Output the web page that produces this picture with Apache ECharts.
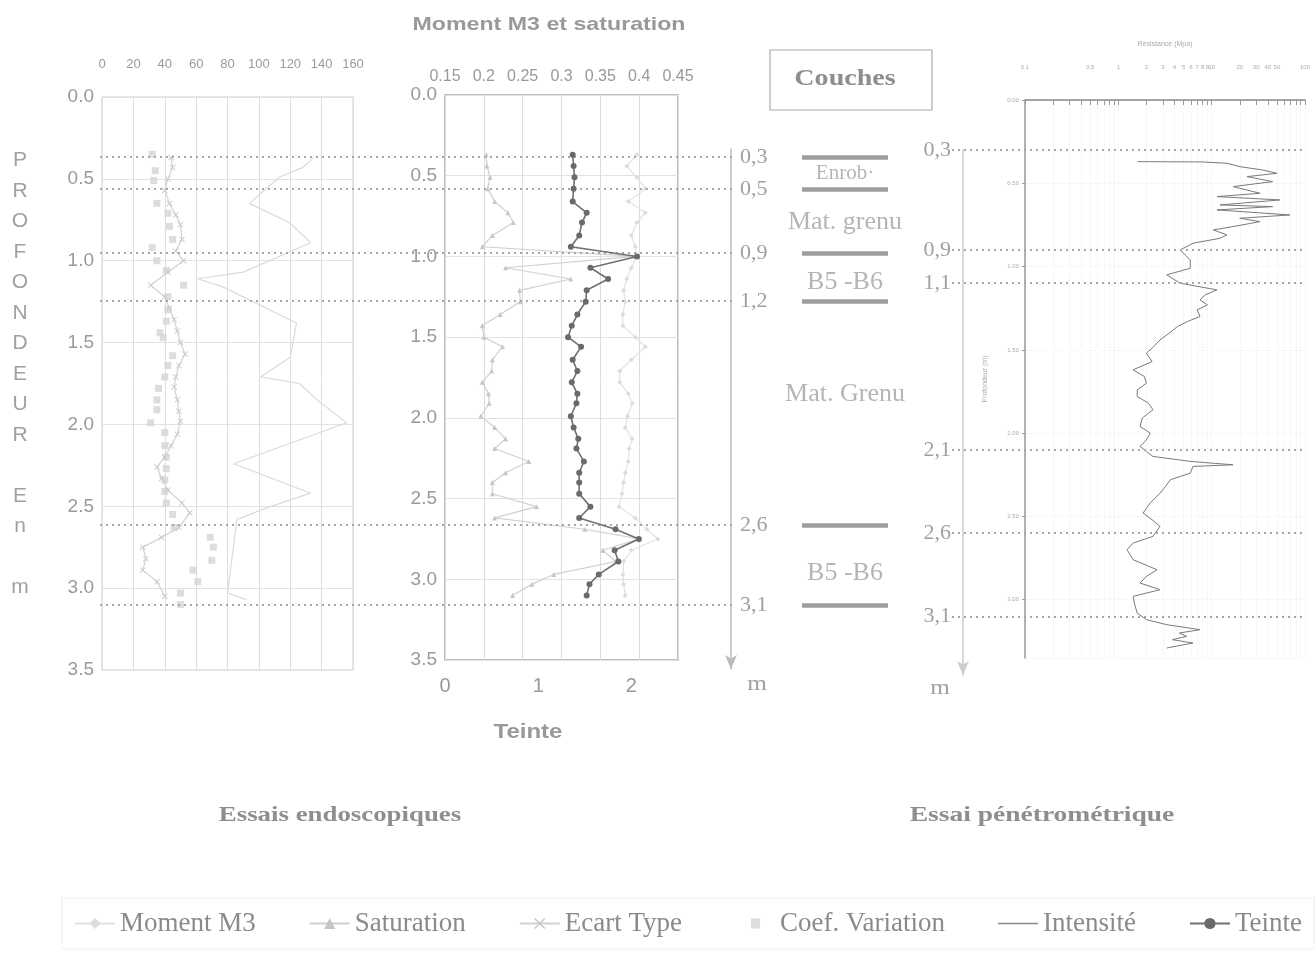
<!DOCTYPE html>
<html><head><meta charset="utf-8">
<script src="https://cdn.jsdelivr.net/npm/echarts@6/dist/echarts.min.js"></script>
<style>html,body{margin:0;padding:0;background:#fff}#c{width:1316px;height:957px}</style>
</head><body><div id="c"></div>
<script>
// ---------- DATA ----------
// Panel 1 (0-160 scale)
const intDepth   = [0.37,0.43,0.49,0.65,0.77,0.89,1.07,1.11,1.16,1.38,1.59,1.71,1.75,1.85,1.99,2.24,2.42,2.51,2.58,3.03,3.07];
const intensite  = [135,128,113,94,120,133,90,61,77,124,120,101,126,137,156,84,133,105,86,80,92];
const covDepth   = [0.35,0.45,0.51,0.65,0.71,0.79,0.87,0.92,1.00,1.06,1.15,1.22,1.30,1.37,1.44,1.47,1.58,1.64,1.71,1.78,1.85,1.91,1.99,2.05,2.13,2.20,2.27,2.34,2.41,2.48,2.55,2.63,2.69,2.75,2.83,2.89,2.96,3.03,3.10];
const coefVariation = [32,34,33,35,42,43,45,32,35,41,52,42,42,41,37,39,45,42,40,36,35,35,31,40,40,41,41,40,40,41,45,46,69,71,70,58,61,50,50];
const etDepth    = [0.37,0.43,0.50,0.57,0.65,0.72,0.78,0.87,0.94,1.00,1.07,1.15,1.22,1.29,1.36,1.43,1.50,1.57,1.64,1.71,1.77,1.85,1.92,1.98,2.06,2.13,2.20,2.26,2.33,2.40,2.48,2.54,2.63,2.69,2.75,2.82,2.89,2.96,3.05];
const ecartType  = [44,45,42,40,43,47,50,51,47,52,42,31,40,43,46,48,50,53,49,47,46,48,49,50,48,44,40,35,38,42,51,56,49,38,26,28,26,35,40];
// Panel 2
const tDepth     = [0.37,0.44,0.51,0.58,0.66,0.73,0.79,0.87,0.94,1.00,1.07,1.14,1.21,1.28,1.36,1.43,1.50,1.56,1.64,1.71,1.78,1.85,1.91,1.99,2.06,2.13,2.19,2.27,2.34,2.40,2.47,2.55,2.62,2.69,2.75,2.82,2.89,2.97,3.03,3.10];
const teinte     = [1.37,1.38,1.39,1.38,1.37,1.52,1.47,1.44,1.35,2.06,1.56,1.75,1.52,1.51,1.42,1.36,1.32,1.46,1.37,1.42,1.36,1.42,1.41,1.35,1.38,1.43,1.41,1.49,1.44,1.44,1.44,1.56,1.44,1.83,2.08,1.82,1.86,1.65,1.55,1.52];
const saturation = [0.203,0.204,0.208,0.205,0.214,0.231,0.238,0.211,0.198,0.395,0.228,0.312,0.246,0.247,0.221,0.198,0.200,0.224,0.211,0.210,0.198,0.206,0.207,0.196,0.214,0.228,0.214,0.258,0.228,0.211,0.211,0.268,0.214,0.33,0.40,0.353,0.37,0.29,0.262,0.237];
const momentM3   = [0.397,0.384,0.397,0.408,0.386,0.408,0.397,0.39,0.395,0.397,0.39,0.384,0.38,0.382,0.379,0.379,0.395,0.408,0.39,0.375,0.375,0.386,0.391,0.385,0.382,0.391,0.387,0.386,0.382,0.38,0.378,0.374,0.395,0.41,0.424,0.39,0.38,0.379,0.38,0.382];
// Layers
const leftBounds  = [0.3,0.5,0.9,1.2,2.6,3.1];
const rightBounds = [0.3,0.9,1.1,2.1,2.6,3.1];
const layerNames  = ['Enrob·','Mat. grenu','B5 -B6','Mat. Grenu','B5 -B6'];
const layerMid    = [0.40,0.71,1.08,1.78,2.9];
// Penetrometer
const penDepth = [0.37,0.372,0.38,0.40,0.42,0.44,0.46,0.49,0.52,0.56,0.58,0.60,0.63,0.64,0.66,0.69,0.71,0.73,0.76,0.78,0.81,0.83,0.86,0.90,0.93,0.96,1.01,1.05,1.10,1.14,1.17,1.20,1.23,1.26,1.30,1.33,1.36,1.40,1.44,1.48,1.52,1.57,1.62,1.66,1.70,1.74,1.78,1.82,1.86,1.91,1.96,2.00,2.04,2.08,2.11,2.14,2.17,2.19,2.20,2.24,2.28,2.32,2.36,2.42,2.48,2.52,2.56,2.62,2.66,2.70,2.76,2.82,2.86,2.90,2.94,2.98,3.03,3.08,3.12,3.15,3.18,3.20,3.22,3.24,3.26,3.29];
const resistance = [1.6,8,14.6,20,35,50,24,45,17,33,11.4,54,12.3,45,11.4,69,20,33,17,10.4,14.6,12.3,6.3,4.6,5.2,5.9,5.9,3.3,4.6,11.4,8.5,7.5,9.0,7.0,7.5,5.5,4.3,3.5,2.8,2.4,2.0,2.3,1.44,1.9,2.0,1.6,1.59,2.1,2.35,1.8,1.71,2.2,2.0,1.71,2.0,2.35,6,16.9,6.3,5.9,3.6,3.2,2.8,2.19,1.84,2.3,2.8,2.35,1.44,1.24,1.44,2.6,2.0,1.71,2.8,1.44,1.5,1.59,2.0,3.3,7.5,4.5,5.4,3.8,6.3,3.3];
const penTickLabels = [0.1,0.5,1,2,3,4,5,6,7,8,9,10,20,30,40,50,100];
const penMinorTicks = [0.1,0.2,0.3,0.4,0.5,0.6,0.7,0.8,0.9,1,2,3,4,5,6,7,8,9,10,20,30,40,50,60,70,80,90,100];

// ---------- CHART ----------
const SANS = 'Liberation Sans, Arial, sans-serif';
const SERIF = 'Liberation Serif, Times New Roman, serif';
const zip = (xs, ys) => xs.map((x, i) => [x, ys[i]]);
const hidden = (o) => Object.assign({type:'value', show:false}, o);
const XSYM = 'path://M0,1L1,0L5,4L9,0L10,1L6,5L10,9L9,10L5,6L1,10L0,9L4,5Z';
// legend icons padded with invisible corner specks so they are not stretched
const SQ_ICON = 'path://M0,0h0.01v0.01h-0.01zM40,14h-0.01v-0.01h0.01zM16,2h9v10h-9z';
const LINE_ICON = 'path://M0,0h0.01v0.01h-0.01zM40,14h-0.01v-0.01h0.01zM0,6.2h40v1.6h-40z';

const layerData = layerMid.map((d, i) => {
  const item = {value:[0.5, d, layerNames[i]]};
  if (i === 0) item.label = {fontSize:21};
  return item;
});

const chart = echarts.init(document.getElementById('c'), null, {renderer:'canvas'});
chart.setOption({
  backgroundColor:'#fff',
  animation:false,
  grid:[
    {left:102, top:97, width:251, height:573, show:true, borderColor:'#cfcfcf', borderWidth:1},
    {left:445, top:95, width:233, height:565, show:true, borderColor:'#a8a8a8', borderWidth:1.5},
    {left:100, top:109, width:633, height:560},
    {left:731, top:149, width:1, height:520},
    {left:802, top:109, width:86, height:560},
    {left:1025, top:100, width:280, height:558},
    {left:952, top:100, width:353, height:583},
    {left:963, top:150, width:1, height:525}
  ],
  xAxis:[
    {type:'value', gridIndex:0, position:'top', min:0, max:160, interval:20,
     axisLine:{show:false}, axisTick:{show:false},
     axisLabel:{margin:26, fontSize:13, color:'#9a9a9a', fontFamily:SANS},
     splitLine:{lineStyle:{color:'#dedede'}}},
    {type:'value', gridIndex:1, position:'top', min:0.15, max:0.45, interval:0.05,
     axisLine:{show:false}, axisTick:{show:false},
     axisLabel:{margin:10, fontSize:16, color:'#999', fontFamily:SANS, showMinLabel:true, showMaxLabel:true},
     splitLine:{lineStyle:{color:'#dcdcdc'}}},
    {type:'value', gridIndex:1, position:'bottom', min:0, max:2.5, interval:1,
     axisLine:{show:false}, axisTick:{show:false},
     axisLabel:{margin:16, fontSize:20, color:'#999', fontFamily:SANS, showMaxLabel:false},
     splitLine:{show:false}},
    hidden({gridIndex:2, min:0, max:1}),
    hidden({gridIndex:3, min:0, max:1}),
    hidden({gridIndex:4, min:0, max:1}),
    {type:'log', gridIndex:5, position:'top', min:0.1, max:100, logBase:10,
     name:'Résistance (Mpa)', nameLocation:'middle', nameGap:52,
     nameTextStyle:{fontSize:7, color:'#aaa', fontFamily:SANS},
     axisLine:{lineStyle:{color:'#888', width:1.5}},
     axisTick:{show:true, inside:true, length:5, customValues:penMinorTicks, lineStyle:{color:'#999'}},
     axisLabel:{margin:30, fontSize:6, color:'#aaa', fontFamily:SANS, customValues:penTickLabels},
     splitLine:{show:true, lineStyle:{color:'#efefef', type:'dotted'}}},
    hidden({gridIndex:6, min:0, max:1}),
    hidden({gridIndex:7, min:0, max:1})
  ],
  yAxis:[
    {type:'value', gridIndex:0, inverse:true, min:0, max:3.5, interval:0.5,
     axisLine:{show:false}, axisTick:{show:false},
     axisLabel:{margin:8, fontSize:19, color:'#9a9a9a', fontFamily:SANS, formatter:v=>v.toFixed(1)},
     splitLine:{lineStyle:{color:'#e2e2e2'}}},
    {type:'value', gridIndex:1, inverse:true, min:0, max:3.5, interval:0.5,
     axisLine:{show:false}, axisTick:{show:false},
     axisLabel:{margin:8, fontSize:19, color:'#9a9a9a', fontFamily:SANS, formatter:v=>v.toFixed(1)},
     splitLine:{lineStyle:{color:'#e2e2e2'}}},
    hidden({gridIndex:2, inverse:true, min:0, max:3.5}),
    {type:'value', gridIndex:3, inverse:true, min:0.25, max:3.5, position:'right',
     axisLine:{show:true, symbol:['arrow','none'], symbolSize:[9,14], lineStyle:{color:'#bbb', width:1.5}},
     axisTick:{show:false}, splitLine:{show:false},
     axisLabel:{margin:8, fontSize:22, color:'#a0a0a0', fontFamily:SERIF, customValues:leftBounds,
                formatter:v=>String(v).replace('.',','), padding:[0,0,10,0]}},
    hidden({gridIndex:4, inverse:true, min:0, max:3.5}),
    {type:'value', gridIndex:5, inverse:true, min:0, max:3.35, interval:0.5,
     name:'Profondeur (m)', nameLocation:'middle', nameGap:36, nameRotate:90,
     nameTextStyle:{fontSize:7, color:'#aaa', fontFamily:SANS},
     axisLine:{show:true, lineStyle:{color:'#999', width:1.5}},
     axisTick:{show:true, length:3, lineStyle:{color:'#999'}},
     axisLabel:{margin:6, fontSize:6, color:'#aaa', fontFamily:SANS, showMaxLabel:false, formatter:v=>v.toFixed(2)},
     splitLine:{show:true, lineStyle:{color:'#efefef', type:'dotted'}}},
    hidden({gridIndex:6, inverse:true, min:0, max:3.5}),
    {type:'value', gridIndex:7, inverse:true, min:0.3, max:3.45, position:'left',
     axisLine:{show:true, symbol:['arrow','none'], symbolSize:[9,14], lineStyle:{color:'#ccc', width:1.5}},
     axisTick:{show:false}, splitLine:{show:false},
     axisLabel:{margin:12, fontSize:22, color:'#a0a0a0', fontFamily:SERIF, customValues:rightBounds,
                formatter:v=>String(v).replace('.',',')}}
  ],
  legend:{
    left:62, top:898, width:1250, itemGap:53, itemWidth:40, itemHeight:14,
    padding:[12,12], borderColor:'#eeeeee', borderWidth:1,
    textStyle:{fontFamily:SERIF, fontSize:27, color:'#8a8a8a'},
    data:[
      {name:'Moment M3'},
      {name:'Saturation'},
      {name:'Ecart Type'},
      {name:'Coef. Variation', icon:SQ_ICON, itemStyle:{color:'#d4d4d4'}},
      {name:'Intensité', icon:LINE_ICON, itemStyle:{color:'#8a8a8a'}},
      {name:'Teinte'}
    ]
  },
  series:[
    {name:'Intensité', type:'line', xAxisIndex:0, yAxisIndex:0, data:zip(intensite,intDepth),
     symbol:'none', lineStyle:{color:'#dadada', width:1.2}, itemStyle:{color:'#d0d0d0'}, z:2},
    {name:'Coef. Variation', type:'scatter', xAxisIndex:0, yAxisIndex:0, data:zip(coefVariation,covDepth),
     symbol:'rect', symbolSize:7, itemStyle:{color:'#d4d4d4'}, z:3},
    {name:'Ecart Type', type:'line', xAxisIndex:0, yAxisIndex:0, data:zip(ecartType,etDepth),
     symbol:XSYM, symbolSize:6, lineStyle:{color:'#d2d2d2', width:1.2}, itemStyle:{color:'#c8c8c8'}, z:3},
    {name:'Moment M3', type:'line', xAxisIndex:1, yAxisIndex:1, data:zip(momentM3,tDepth),
     symbol:'diamond', symbolSize:5, lineStyle:{color:'#e2e2e2', width:1.2}, itemStyle:{color:'#dcdcdc'}, z:3},
    {name:'Saturation', type:'line', xAxisIndex:1, yAxisIndex:1, data:zip(saturation,tDepth),
     symbol:'triangle', symbolSize:5, lineStyle:{color:'#d0d0d0', width:1.2}, itemStyle:{color:'#c6c6c6'}, z:4},
    {name:'Teinte', type:'line', xAxisIndex:2, yAxisIndex:1, data:zip(teinte,tDepth),
     symbol:'circle', symbolSize:6, lineStyle:{color:'#707070', width:1.6}, itemStyle:{color:'#6a6a6a'}, z:6},
    {name:'leftBounds', type:'scatter', xAxisIndex:3, yAxisIndex:2, silent:true,
     data:leftBounds.map(v=>[0,v]), symbolSize:0,
     markLine:{silent:true, symbol:'none', label:{show:false},
       lineStyle:{type:[2,4], color:'#a6a6a6', width:2}, data:leftBounds.map(v=>({yAxis:v}))}, z:5},
    {name:'couches', type:'scatter', xAxisIndex:5, yAxisIndex:4, silent:true,
     data:layerData, symbolSize:0,
     label:{show:true, position:'inside', formatter:p=>p.data.value[2], fontFamily:SERIF, fontSize:26, color:'#a2a2a2'},
     markLine:{silent:true, symbol:'none', label:{show:false},
       lineStyle:{type:'solid', color:'#9c9c9c', width:4.5}, data:leftBounds.map(v=>({yAxis:v}))}},
    {name:'Résistance', type:'line', xAxisIndex:6, yAxisIndex:5, data:zip(resistance,penDepth),
     symbol:'none', lineStyle:{color:'#7a7a7a', width:1}, z:4},
    {name:'rightBounds', type:'scatter', xAxisIndex:7, yAxisIndex:6, silent:true,
     data:rightBounds.map(v=>[0,v]), symbolSize:0,
     markLine:{silent:true, symbol:'none', label:{show:false},
       lineStyle:{type:[2,4], color:'#a6a6a6', width:2}, data:rightBounds.map(v=>({yAxis:v}))}, z:5}
  ],
  graphic:[
    {type:'text', x:549, y:25, scaleX:1.22, style:{text:'Moment M3 et saturation', align:'center', verticalAlign:'middle', font:'bold 19px Liberation Sans, Arial, sans-serif', fill:'#999'}},
    {type:'text', x:528, y:732, scaleX:1.2, style:{text:'Teinte', align:'center', verticalAlign:'middle', font:'bold 20px Liberation Sans, Arial, sans-serif', fill:'#999'}},
    {type:'text', x:340, y:815, scaleX:1.22, style:{text:'Essais endoscopiques', align:'center', verticalAlign:'middle', font:'bold 22px Liberation Serif, serif', fill:'#8e8e8e'}},
    {type:'text', x:1042, y:815, scaleX:1.25, style:{text:'Essai pénétrométrique', align:'center', verticalAlign:'middle', font:'bold 22px Liberation Serif, serif', fill:'#8e8e8e'}},
    {type:'text', x:20, y:145, style:{text:'P\nR\nO\nF\nO\nN\nD\nE\nU\nR\n \nE\nn\n \nm', align:'center', verticalAlign:'top', lineHeight:30.5, font:'21px Liberation Sans, Arial, sans-serif', fill:'#a0a0a0'}},
    {type:'text', x:757, y:684, scaleX:1.2, style:{text:'m', align:'center', verticalAlign:'middle', font:'21px Liberation Serif, serif', fill:'#a0a0a0'}},
    {type:'text', x:940, y:688, scaleX:1.2, style:{text:'m', align:'center', verticalAlign:'middle', font:'21px Liberation Serif, serif', fill:'#a0a0a0'}},
    {type:'rect', shape:{x:770, y:50, width:162, height:60}, style:{fill:'none', stroke:'#aaa', lineWidth:1.2}},
    {type:'text', x:845, y:79, scaleX:1.22, style:{text:'Couches', align:'center', verticalAlign:'middle', font:'bold 23px Liberation Serif, serif', fill:'#8e8e8e'}}
  ]
});
</script></body></html>
